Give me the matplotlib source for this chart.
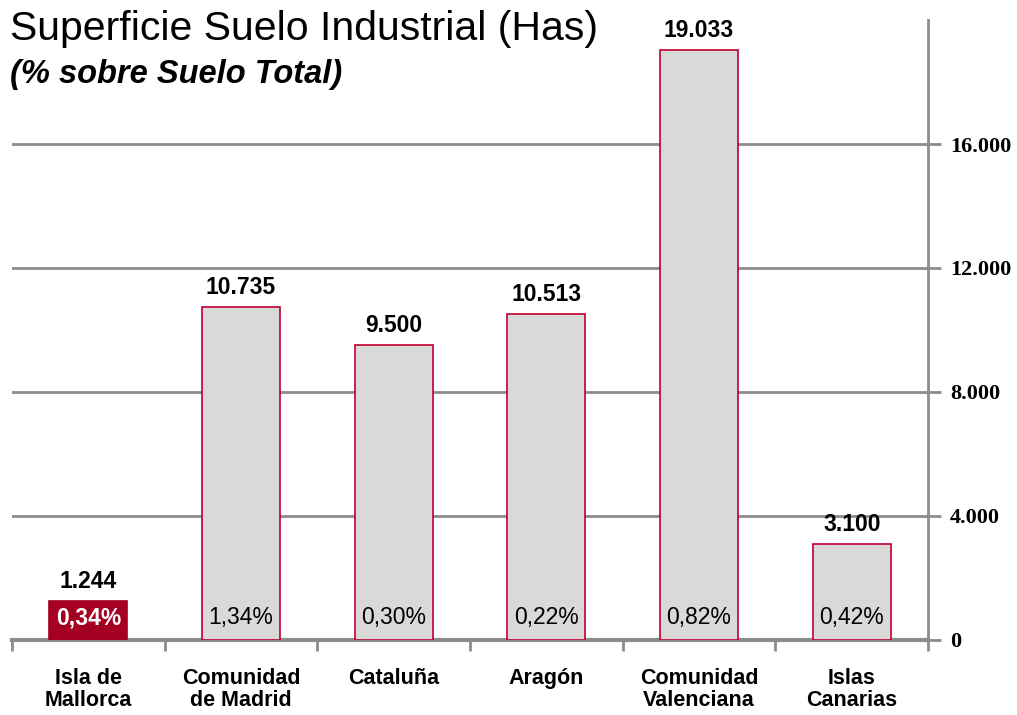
import matplotlib.pyplot as plt
import numpy as np

regions = ['Isla de\nMallorca', 'Comunidad\nde Madrid', 'Cataluña', 'Aragón',
           'Comunidad\nValenciana', 'Islas\nCanarias']
hectares = [1244, 10735, 9500, 10513, 19033, 3100]
value_labels = ['1.244', '10.735', '9.500', '10.513', '19.033', '3.100']
pct_labels = ['0,34%', '1,34%', '0,30%', '0,22%', '0,82%', '0,42%']
yticks = [0, 4000, 8000, 12000, 16000]
ytick_labels = ['0', '4.000', '8.000', '12.000', '16.000']

plt.rcParams['font.family'] = ['Liberation Sans', 'DejaVu Sans']

fig = plt.figure(figsize=(10.17, 7.15), dpi=100)
ax = fig.add_axes([0.0118, 0.105, 0.9007, 0.867])

x = np.arange(len(regions))
colors = ['#a50021'] + ['#d9d9d9'] * (len(regions) - 1)
edges = ['#a50021'] + ['#c00030'] * (len(regions) - 1)
ax.bar(x, hectares, width=0.51, color=colors, edgecolor=edges, linewidth=1.2, zorder=3)

for i in range(len(regions)):
    ax.annotate(value_labels[i], (x[i], hectares[i]), xytext=(0, 6),
                textcoords='offset points', ha='center', va='bottom',
                fontsize=16.5, fontweight='bold', color='black')
    if i == 0:
        ax.annotate(pct_labels[i], (x[i], 0), xytext=(0, 16),
                    textcoords='offset points', ha='center', va='center',
                    fontsize=16.5, fontweight='bold', color='white', zorder=4)
    else:
        ax.annotate(pct_labels[i], (x[i], 0), xytext=(0, 16),
                    textcoords='offset points', ha='center', va='center',
                    fontsize=16.5, color='black', zorder=4)

ax.set_xlim(-0.5, len(regions) - 0.5)
ax.set_ylim(0, 20000)

ax.yaxis.tick_right()
ax.set_yticks(yticks)
ax.set_yticklabels(ytick_labels, fontfamily='Liberation Serif', fontweight='bold', fontsize=16)
ax.tick_params(axis='y', length=9, width=2, color='#8c8c8c', pad=7)
ax.yaxis.grid(True, color='#8c8c8c', linewidth=2, zorder=0)

ax.set_xticks(x)
ax.set_xticklabels(regions, fontweight='bold', fontsize=15.5, linespacing=1.05)
ax.set_xticks(np.arange(len(regions) + 1) - 0.5, minor=True)
ax.tick_params(axis='x', which='major', length=0, pad=20)
ax.tick_params(axis='x', which='minor', length=8, width=2, color='#8c8c8c')

for side in ['left', 'top']:
    ax.spines[side].set_visible(False)
ax.spines['right'].set_color('#8c8c8c')
ax.spines['right'].set_linewidth(2)
ax.spines['bottom'].set_color('#8c8c8c')
ax.spines['bottom'].set_linewidth(3)
ax.set_axisbelow(True)

fig.text(0.01, 0.986, 'Superficie Suelo Industrial (Has)', fontsize=29.5,
         ha='left', va='top')
fig.text(0.01, 0.917, '(% sobre Suelo Total)', fontsize=23.5, style='italic',
         fontweight='bold', ha='left', va='top')

fig.savefig('out.png', dpi=100)
